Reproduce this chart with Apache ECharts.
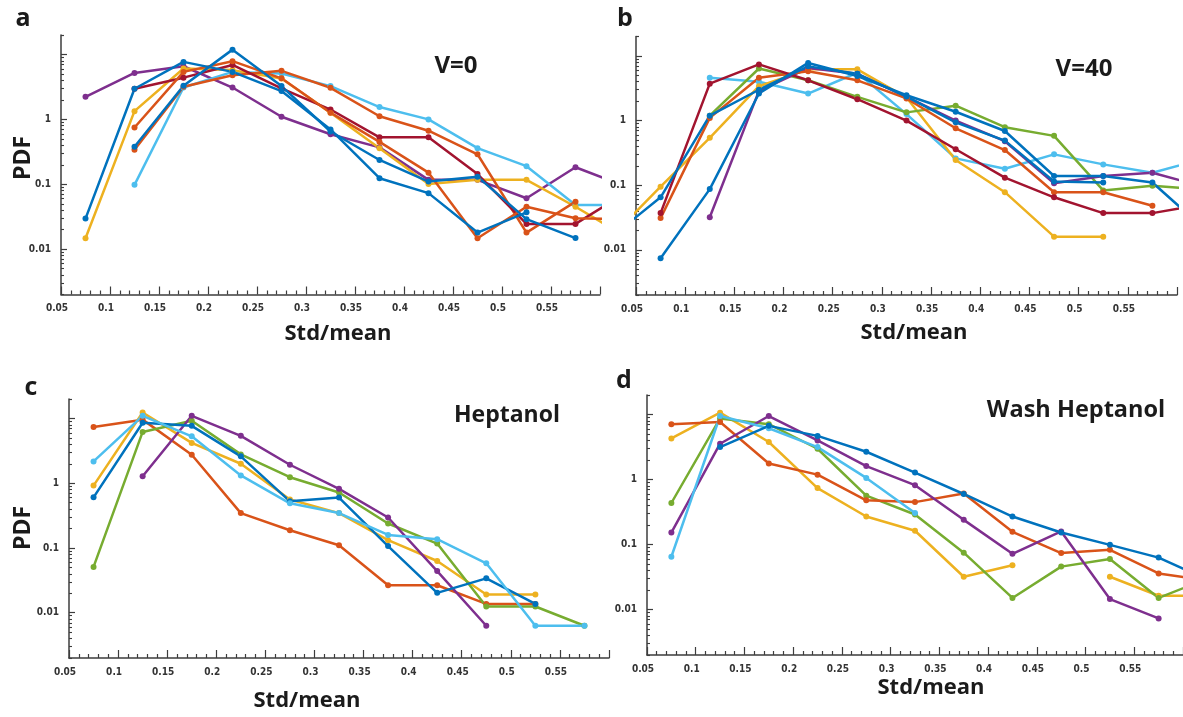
<!DOCTYPE html>
<html>
<head>
<meta charset="utf-8">
<title>PDF of Std/mean</title>
<script src="https://cdn.jsdelivr.net/npm/echarts@6/dist/echarts.min.js"></script>
<style>
  html, body { margin: 0; padding: 0; background: #ffffff; }
  #chart { width: 1183px; height: 717px; }
</style>
</head>
<body>
<div id="chart"></div>
<script>
// Bin centres of Std/mean (the first and last bins fall outside the plotted range and are clipped)
const stdMean = [0.025, 0.075, 0.125, 0.175, 0.225, 0.275, 0.325, 0.375, 0.425, 0.475, 0.525, 0.575, 0.625];

// Panel a: V=0
const v0Blue1   = [null, 0.0296, 2.97, 7.7, 5.4, 2.73, 0.70, 0.124, 0.073, 0.018, 0.037, null, null];
const v0Blue2   = [null, null, 0.38, 3.3, 11.9, 3.26, 0.65, 0.237, 0.11, 0.131, 0.029, 0.0148, null];
const v0Orange1 = [null, null, 0.34, 3.18, 4.8, 5.6, 3.07, 1.12, 0.67, 0.29, 0.018, 0.054, null];
const v0Orange2 = [null, null, 0.75, 5.4, 7.9, 4.3, 1.27, 0.45, 0.151, 0.0147, 0.045, 0.030, 0.029];
const v0Yellow  = [null, 0.0147, 1.34, 6.1, 5.75, 4.27, 1.27, 0.36, 0.101, 0.117, 0.117, 0.045, 0.016];
const v0Purple  = [null, 2.23, 5.2, 6.6, 3.1, 1.1, 0.59, 0.37, 0.117, 0.117, 0.061, 0.183, 0.094];
const v0DarkRed = [null, null, 2.97, 4.4, 6.9, 3.0, 1.42, 0.53, 0.53, 0.144, 0.0245, 0.0245, 0.072];
const v0Cyan    = [null, null, 0.098, 3.1, 5.4, 5.1, 3.26, 1.55, 1.0, 0.36, 0.19, 0.048, 0.048];

// Panel b: V=40
const v40Blue1   = [null, 0.0074, 0.087, 2.62, 7.8, 4.9, 2.47, 1.37, 0.69, 0.139, 0.139, 0.11, 0.023];
const v40Blue2   = [0.0158, 0.065, 1.19, 3.0, 6.9, 5.3, 2.35, 0.94, 0.49, 0.114, 0.11, null, null];
const v40Yellow  = [0.016, 0.095, 0.54, 3.4, 6.2, 6.2, 2.27, 0.245, 0.078, 0.016, 0.016, null, null];
const v40DarkRed = [null, 0.037, 3.73, 7.4, 4.2, 2.14, 1.0, 0.36, 0.131, 0.065, 0.037, 0.037, 0.05];
const v40Orange  = [null, 0.031, 1.1, 4.6, 5.8, 4.2, 2.2, 0.76, 0.35, 0.078, 0.078, 0.048, null];
const v40Green   = [null, null, 1.19, 6.4, 4.2, 2.33, 1.34, 1.7, 0.79, 0.58, 0.083, 0.098, 0.086];
const v40Purple  = [null, null, 0.032, 2.88, 6.5, 5.3, 2.33, 1.0, 0.48, 0.107, 0.139, 0.156, 0.097];
const v40Cyan    = [null, null, 4.6, 4.0, 2.62, 5.5, 1.26, 0.26, 0.18, 0.30, 0.21, 0.156, 0.25];

// Panel c: Heptanol
const hepBlue   = [null, 0.606, 8.6, 7.7, 2.6, 0.525, 0.60, 0.107, 0.0203, 0.034, 0.0137, null, null];
const hepOrange = [null, 7.4, 9.6, 2.75, 0.346, 0.188, 0.110, 0.0266, 0.0266, 0.0137, 0.0137, null, null];
const hepYellow = [null, 0.92, 12.4, 4.2, 2.0, 0.56, 0.346, 0.132, 0.063, 0.0191, 0.0191, null, null];
const hepPurple = [null, null, 1.28, 11.0, 5.4, 1.93, 0.82, 0.296, 0.044, 0.0063, null, null, null];
const hepGreen  = [null, 0.051, 6.2, 9.2, 2.79, 1.24, 0.72, 0.239, 0.117, 0.0125, 0.0125, 0.0063, null];
const hepCyan   = [null, 2.17, 11.0, 5.3, 1.32, 0.49, 0.346, 0.159, 0.137, 0.058, 0.0063, 0.0063, null];

// Panel d: Wash Heptanol
const washBlue   = [null, null, 3.16, 6.7, 4.7, 2.68, 1.28, 0.6, 0.27, 0.153, 0.099, 0.063, 0.029];
const washOrange = [null, 7.1, 7.7, 1.77, 1.19, 0.48, 0.45, 0.61, 0.157, 0.074, 0.083, 0.036, 0.028];
const washYellow = [null, 4.3, 10.7, 3.78, 0.74, 0.27, 0.163, 0.032, 0.048, null, 0.032, 0.0163, 0.0163];
const washPurple = [null, 0.153, 3.56, 9.5, 4.0, 1.61, 0.82, 0.24, 0.072, 0.159, 0.0145, 0.0073, null];
const washGreen  = [null, 0.436, 8.7, 7.1, 2.98, 0.566, 0.29, 0.075, 0.0151, 0.0458, 0.06, 0.0151, 0.03];
const washCyan   = [null, 0.065, 9.5, 6.15, 3.16, 1.06, 0.305, null, null, null, null, null, null];

// Axis ticks and labels
const xRange = [0.05, 0.6];
const yRange = [0.002, 20];
const yLabelValues = [0.01, 0.1, 1];
const yMajorTicks = [0.01, 0.1, 1, 10];
const yMinorSteps = [2, 3, 4, 5, 6, 7, 8, 9];
const yDecades = [0.001, 0.01, 0.1, 1, 10];

const C = {
  blue: '#0072BD', orange: '#D95319', yellow: '#EDB120', purple: '#7E2F8E',
  green: '#77AC30', cyan: '#4DBEEE', darkred: '#A2142F'
};

const panels = [
  { grid: { left: 61, top: 35, width: 539, height: 259.5 },
    lines: [[v0Purple, C.purple], [v0Cyan, C.cyan], [v0Yellow, C.yellow], [v0Orange1, C.orange],
            [v0DarkRed, C.darkred], [v0Orange2, C.orange], [v0Blue1, C.blue], [v0Blue2, C.blue]] },
  { grid: { left: 636, top: 36.5, width: 541, height: 258.5 },
    lines: [[v40Cyan, C.cyan], [v40Yellow, C.yellow], [v40Green, C.green], [v40Purple, C.purple],
            [v40Orange, C.orange], [v40DarkRed, C.darkred], [v40Blue2, C.blue], [v40Blue1, C.blue]] },
  { grid: { left: 69, top: 399, width: 540, height: 259 },
    lines: [[hepOrange, C.orange], [hepYellow, C.yellow], [hepGreen, C.green], [hepPurple, C.purple],
            [hepBlue, C.blue], [hepCyan, C.cyan]] },
  { grid: { left: 647, top: 395, width: 540, height: 260 },
    lines: [[washYellow, C.yellow], [washGreen, C.green], [washOrange, C.orange], [washPurple, C.purple],
            [washCyan, C.cyan], [washBlue, C.blue]] }
];

const axisColor = '#3d3d3d';
const tickFont = { fontFamily: "'Liberation Sans Narrow', 'DejaVu Sans Condensed', sans-serif", fontWeight: 'bold', fontSize: 10, color: '#333333' };
const log10 = Math.log10;
const yMinor = [];
yDecades.forEach(d => yMinorSteps.forEach(m => {
  const v = d * m;
  if (v >= yRange[0] && v <= yRange[1]) yMinor.push(v);
}));
yMinor.push(20);

const grids = [], xAxes = [], yAxes = [], series = [];

panels.forEach((p, i) => {
  grids.push(p.grid);
  xAxes.push({
    gridIndex: i, type: 'value', min: xRange[0], max: xRange[1], interval: 0.05,
    axisLine: { onZero: false, lineStyle: { color: axisColor, width: 1.5 } },
    axisTick: { inside: true, length: 8, lineStyle: { color: axisColor, width: 1.2 } },
    minorTick: { show: true, splitNumber: 5, length: 4, lineStyle: { color: axisColor, width: 1.2 } },
    splitLine: { show: false },
    axisLabel: Object.assign({ margin: 9, padding: [0, 8, 0, 0], showMaxLabel: false,
      formatter: v => String(+v.toFixed(2)) }, tickFont)
  });
  // data axis (logarithmic)
  yAxes.push({
    gridIndex: i, type: 'log', logBase: 10, min: yRange[0], max: yRange[1], position: 'left',
    axisLine: { onZero: false, lineStyle: { color: axisColor, width: 1.5 } },
    axisTick: { show: false }, axisLabel: { show: false }, splitLine: { show: false }
  });
});

// tick overlays in log10 units (major ticks + labels, then minor ticks)
panels.forEach((p, i) => {
  yAxes.push({
    gridIndex: i, type: 'value', min: log10(yRange[0]), max: log10(yRange[1]), position: 'left',
    axisLine: { show: false },
    axisTick: { inside: true, length: 6, customValues: yMajorTicks.map(log10), lineStyle: { color: axisColor, width: 1.2 } },
    axisLabel: Object.assign({ margin: 10, padding: [0, 0, 10, 0], customValues: yLabelValues.map(log10),
      formatter: v => String(yLabelValues[yLabelValues.map(log10).findIndex(t => Math.abs(t - v) < 1e-6)]) }, tickFont),
    splitLine: { show: false }
  });
});
panels.forEach((p, i) => {
  yAxes.push({
    gridIndex: i, type: 'value', min: log10(yRange[0]), max: log10(yRange[1]), position: 'left',
    axisLine: { show: false },
    axisTick: { inside: true, length: 3, customValues: yMinor.map(log10), lineStyle: { color: axisColor, width: 1.1 } },
    axisLabel: { show: false }, splitLine: { show: false }
  });
});

panels.forEach((p, i) => {
  p.lines.forEach(([vals, color]) => {
    series.push({
      type: 'line', xAxisIndex: i, yAxisIndex: i,
      data: stdMean.map((x, k) => [x, vals[k] == null ? '-' : vals[k]]),
      clip: true, symbol: 'circle', symbolSize: 6, showSymbol: true,
      lineStyle: { color: color, width: 2.5 },
      itemStyle: { color: color },
      emphasis: { disabled: true }
    });
  });
});

const titleFont = "'Open Sans', 'Noto Sans', sans-serif";
function txt(text, x, y, size, rot) {
  return {
    type: 'text', x: x, y: y, rotation: rot || 0,
    style: { text: text, fill: '#1b1b1b', font: 'bold ' + size + 'px ' + titleFont,
             textAlign: 'center', textVerticalAlign: 'middle' }
  };
}

const graphic = [
  txt('a', 23, 19, 25), txt('b', 625, 19, 25), txt('c', 31, 388, 25), txt('d', 624, 381, 25),
  txt('V=0', 456, 66, 24), txt('V=40', 1084, 69, 24),
  txt('Heptanol', 507, 415, 23), txt('Wash Heptanol', 1076, 410, 23.5),
  txt('PDF', 23, 158, 23, Math.PI / 2), txt('PDF', 23, 528, 23, Math.PI / 2),
  txt('Std/mean', 338, 334, 22), txt('Std/mean', 914, 333, 22),
  txt('Std/mean', 307, 701, 22), txt('Std/mean', 931, 688, 22)
];

const chart = echarts.init(document.getElementById('chart'), null, { renderer: 'canvas' });
chart.setOption({
  backgroundColor: '#ffffff',
  animation: false,
  grid: grids, xAxis: xAxes, yAxis: yAxes, series: series,
  graphic: graphic
});
</script>
</body>
</html>
